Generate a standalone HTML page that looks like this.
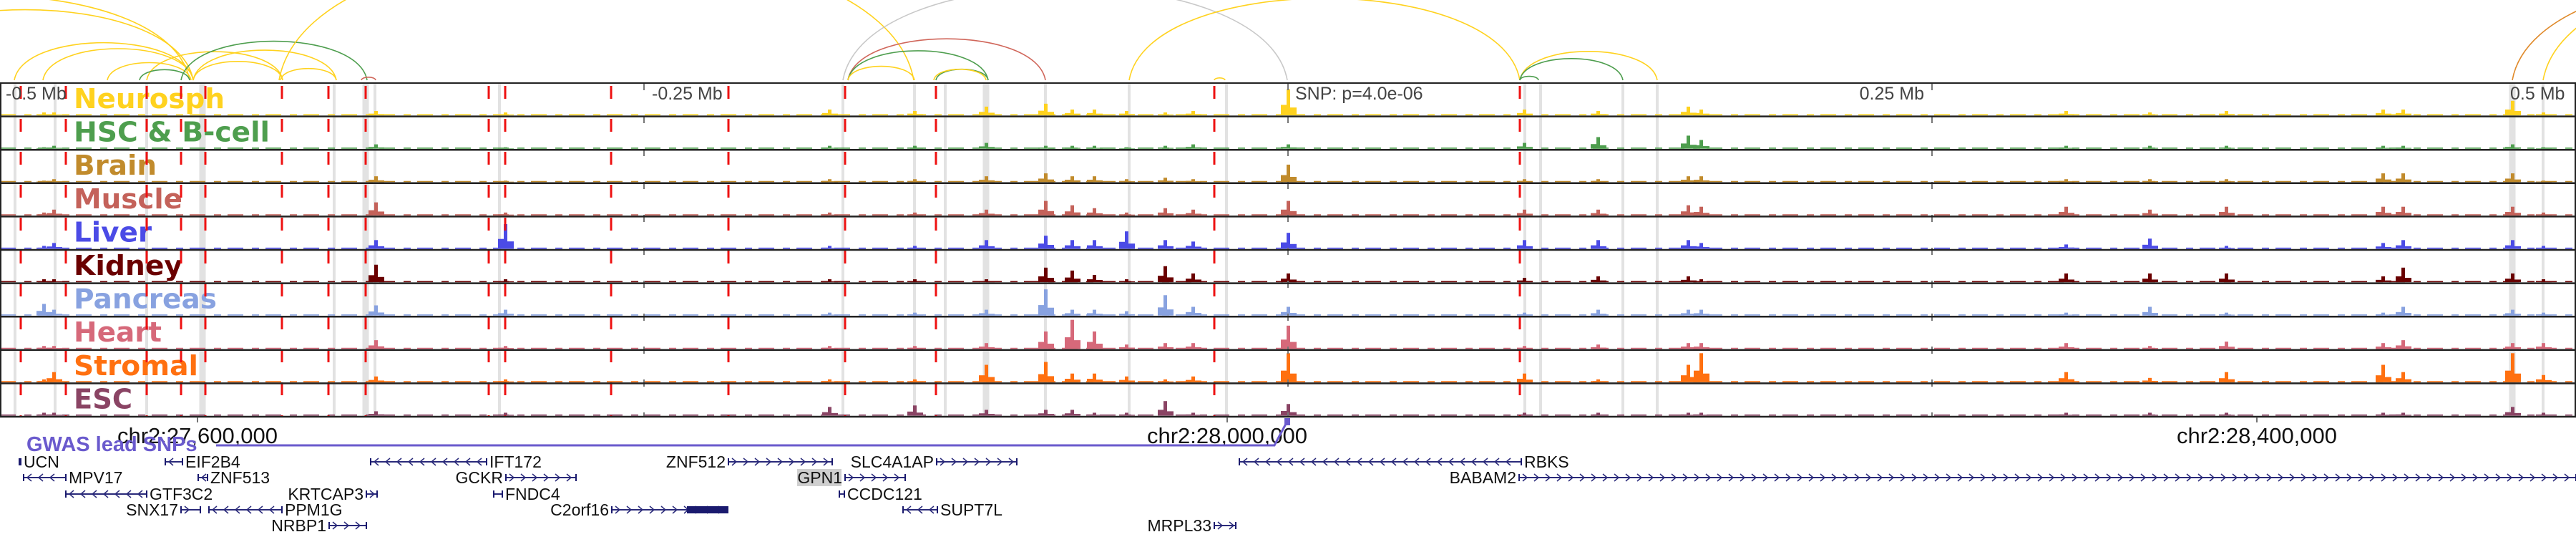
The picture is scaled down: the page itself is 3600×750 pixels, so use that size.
<!DOCTYPE html>
<html><head><meta charset="utf-8"><style>
html,body{margin:0;padding:0;background:#fff;}
svg{display:block;font-family:"Liberation Sans",sans-serif;}
</style></head><body>
<svg id="fig" width="3600" height="750" viewBox="0 0 3600 750" xmlns="http://www.w3.org/2000/svg"></svg>
<script>
// ---- data ----
const trackNames = ["Neurosph","HSC & B-cell","Brain","Muscle","Liver","Kidney","Pancreas","Heart","Stromal","ESC"];
const trackColors = ["#ffd21f","#4e9e4e","#c18b2c","#c4625a","#4b4be6","#6a0000","#88a2e0","#d6697a","#ff7010","#8a4464"];
const labelWidths = [211,274,116,152,109,152,200,123,174,82];
// peak positions (px along the window) and heights per track
const peakX = [61,75,525,706,1159,1278,1378,1461,1498,1529,1574,1628,1667,1800,2130,2233,2359,2377,2887,3004,3111,3330,3358,3511,3554];
const hNeuro   = [0.1,0.1,0.15,0.1,0.2,0.15,0.3,0.4,0.2,0.2,0.15,0.1,0.15,0.9,0.2,0.15,0.3,0.2,0.15,0.1,0.15,0.2,0.2,0.5,0.1];
const hHSC     = [0.05,0.1,0.15,0.05,0.1,0.1,0.2,0.1,0.1,0.1,0.05,0.1,0.15,0.15,0.2,0.4,0.45,0.3,0.1,0.1,0.1,0.1,0.1,0.15,0.05];
const hBrain   = [0.05,0.1,0.2,0.05,0.1,0.1,0.2,0.3,0.2,0.2,0.1,0.15,0.1,0.6,0.1,0.1,0.2,0.2,0.1,0.1,0.1,0.3,0.3,0.3,0.05];
const hMuscle  = [0.1,0.2,0.45,0.1,0.1,0.1,0.2,0.5,0.35,0.25,0.1,0.25,0.2,0.5,0.2,0.2,0.35,0.3,0.3,0.2,0.3,0.3,0.3,0.3,0.1];
const hLiver   = [0.1,0.2,0.3,0.85,0.1,0.1,0.3,0.45,0.3,0.3,0.6,0.3,0.25,0.55,0.3,0.3,0.3,0.2,0.15,0.35,0.1,0.2,0.3,0.3,0.1];
const hKidney  = [0.1,0.1,0.6,0.1,0.1,0.1,0.1,0.5,0.4,0.25,0.1,0.55,0.3,0.3,0.15,0.2,0.2,0.1,0.3,0.3,0.3,0.2,0.5,0.3,0.1];
const hPancreas= [0.4,0.2,0.35,0.2,0.1,0.1,0.2,0.9,0.2,0.2,0.15,0.7,0.3,0.3,0.1,0.2,0.2,0.2,0.1,0.3,0.1,0.1,0.3,0.2,0.1];
const hHeart   = [0.1,0.1,0.3,0.1,0.1,0.1,0.2,0.6,1.0,0.6,0.15,0.2,0.2,0.8,0.1,0.15,0.2,0.2,0.2,0.1,0.25,0.2,0.3,0.2,0.2];
const hStromal = [0.1,0.35,0.2,0.1,0.1,0.1,0.6,0.7,0.3,0.3,0.2,0.1,0.2,1.0,0.3,0.1,0.6,1.0,0.35,0.15,0.35,0.6,0.35,1.0,0.25];
const hESC     = [0.1,0.1,0.15,0.1,0.3,0.35,0.2,0.2,0.2,0.1,0.1,0.5,0.1,0.4,0.1,0.1,0.1,0.1,0.1,0.1,0.1,0.1,0.1,0.3,0.1];
const trackHeights = [hNeuro,hHSC,hBrain,hMuscle,hLiver,hKidney,hPancreas,hHeart,hStromal,hESC];
const redLines = [29,92,205,253,287,394,459,511,683,706,854,1018,1181,1308,1697,2124];
const grayBands = [21,77,205,283,467,511,524,698,1178,1278,1321,1378,1461,1578,1714,2131,2153,2268,2316,3511,3554];
const wideBands = [283,511,1378,3511];
// arcs: start, end, colour
const arcStart = [-300,-200,20,60,150,205,270,270,392,195,253,505,390,1178,1185,1185,1185,1308,1305,1578,1697,2124,2124,2124,3511,3554];
const arcEnd   = [265,270,270,270,267,395,395,470,470,265,513,525,1277,1799,1461,1381,1278,1381,1378,2124,1712,2316,2268,2150,4200,4300];
const arcColor = ["#ffd21f","#ffd21f","#ffd21f","#ffd21f","#ffd21f","#ffd21f","#ffd21f","#ffd21f","#ffd21f","#4e9e4e","#4e9e4e","#d0665a","#ffd21f","#c8c8c8","#d0665a","#4e9e4e","#ffd21f","#4e9e4e","#ffd21f","#ffd21f","#ffd21f","#ffd21f","#4e9e4e","#4e9e4e","#e08a2a","#ffd21f"];
// genes
const geneNames = ["UCN","EIF2B4","IFT172","ZNF512","SLC4A1AP","RBKS","MPV17","ZNF513","GCKR","GPN1","BABAM2","GTF3C2","KRTCAP3","FNDC4","CCDC121","SNX17","PPM1G","C2orf16","SUPT7L","NRBP1","MRPL33"];
const geneStart = [27,231,518,1018,1309,1732,33,277,707,1181,2123,92,512,690,1173,253,292,855,1262,460,1697];
const geneEnd   = [29,255,680,1163,1421,2126,92,290,805,1265,3600,205,527,702,1180,280,394,1017,1310,512,1727];
const geneRow   = [0,0,0,0,0,0,1,1,1,1,1,2,2,2,2,3,3,3,3,4,4];
const geneSide  = ["R","R","R","L","L","R","R","R","L","L","L","R","L","R","R","L","R","L","R","L","L"];
const geneStrand= [1,-1,-1,1,1,-1,-1,-1,1,1,1,-1,1,-1,-1,1,-1,1,-1,1,1];

// ---- layout ----
const NS="http://www.w3.org/2000/svg";
const svg=document.getElementById('fig');
const panelTop=116, trackH=46.6, nT=10, panelBot=panelTop+trackH*nT;
const arcBase=112;
function el(tag,attrs,parent){const e=document.createElementNS(NS,tag);for(const k in attrs)e.setAttribute(k,attrs[k]);(parent||svg).appendChild(e);return e;}

// arcs
const arcG=el('g',{});


for(let i=0;i<arcStart.length;i++){
  const a=arcStart[i],b=arcEnd[i],h=(b-a)*0.21;
  const p=el('path',{d:`M${a},${arcBase} C${a+(b-a)*0.05},${arcBase-h*1.33} ${b-(b-a)*0.05},${arcBase-h*1.33} ${b},${arcBase}`,fill:'none',stroke:arcColor[i],'stroke-width':1.6},arcG);
  
  
}

// gray bands
for(const x of grayBands){
  const w=wideBands.includes(x)?9:4;
  const r=el('rect',{x:x-w/2,y:panelTop,width:w,height:panelBot-panelTop,fill:'#e2e2e2'});
  
  
}

// tracks
for(let t=0;t<nT;t++){
  const top=panelTop+t*trackH, bot=top+trackH-1.5;
  const g=el('g',{});
  
  
  el('line',{x1:0,x2:3600,y1:bot-0.8,y2:bot-0.8,stroke:trackColors[t],'stroke-width':1.6,'stroke-dasharray':'22 12 10 9'},g);
  const hs=trackHeights[t];
  for(let i=0;i<peakX.length;i++){
    const h=hs[i]*(trackH-6), x=peakX[i];
    const r=el('rect',{x:x-2,y:bot-h,width:5,height:h,fill:trackColors[t]},g);
    
    
    el('rect',{x:x-10,y:bot-h*0.4,width:8,height:h*0.4,fill:trackColors[t]},g);
    el('rect',{x:x+3,y:bot-h*0.3,width:9,height:h*0.3,fill:trackColors[t]},g);
  }
  const lab=el('text',{x:103,y:top+35,'font-size':38,'font-weight':'bold','font-family':'"DejaVu Sans",sans-serif',fill:trackColors[t],textLength:labelWidths[t],lengthAdjust:'spacingAndGlyphs'},g);
  lab.textContent=trackNames[t];
  
  
}

// red dashed lines
for(const x of redLines){
  const l=el('line',{x1:x,x2:x,y1:panelTop,y2:panelBot,stroke:'#ee1111','stroke-width':3,'stroke-dasharray':'18 28','stroke-dashoffset':'-4'});
  
  
}
// gray dashed tick lines
for(const x of [900,1800,2700]){
  const l=el('line',{x1:x,x2:x,y1:panelTop,y2:panelBot,stroke:'#777','stroke-width':2,'stroke-dasharray':'10 36'});
  
  
}
// separators
for(let t=0;t<=nT;t++){
  const y=panelTop+t*trackH;
  const l=el('line',{x1:0,x2:3600,y1:y,y2:y,stroke:'#222','stroke-width':t==0?2:2.5});
  
  
}
el('line',{x1:1,x2:1,y1:panelTop,y2:panelBot,stroke:'#222','stroke-width':2});
el('line',{x1:3599,x2:3599,y1:panelTop,y2:panelBot,stroke:'#222','stroke-width':2});

// relative labels
const relLabels=[["-0.5 Mb",8,'start'],["-0.25 Mb",911,'start'],["SNP: p=4.0e-06",1810,'start'],["0.25 Mb",2689,'end'],["0.5 Mb",3508,'start']];
for(const [s,x,a] of relLabels){
  const t=el('text',{x:x,y:139,'font-size':25,fill:'#444','text-anchor':a});
  t.textContent=s;
  
  
}

// genomic axis
const axisPos=[27600000,28000000,28400000];
const axisLabels=["chr2:27,600,000","chr2:28,000,000","chr2:28,400,000"];
const gx = p => 276 + (p-27600000)/1e6*3597.5;
for(let i=0;i<axisPos.length;i++){
  const x=gx(axisPos[i]);
  el('line',{x1:x,x2:x,y1:panelBot,y2:panelBot+8,stroke:'#444','stroke-width':1.5});
  const t=el('text',{x:x,y:619,'font-size':31,fill:'#111','text-anchor':'middle'});
  t.textContent=axisLabels[i];
  
  
}

// GWAS lead SNPs
const gw=el('text',{x:37,y:630,'font-size':29,'font-weight':'bold',fill:'#6a5acd'});
gw.textContent="GWAS lead SNPs";


const gl=el('path',{d:'M302,622 L1781,622 L1797,592',fill:'none',stroke:'#6a5acd','stroke-width':3});


el('rect',{x:1795,y:584,width:8,height:10,fill:'#6a5acd'});

// genes
const rowY=[645,667,690,712,734];
for(let i=0;i<geneNames.length;i++){
  const g=el('g',{});
  
  
  const y=rowY[geneRow[i]], a=geneStart[i], b=geneEnd[i];
  el('line',{x1:a,x2:b,y1:y,y2:y,stroke:'#2a2a7a','stroke-width':2},g);
  el('line',{x1:a,x2:a,y1:y-5,y2:y+5,stroke:'#1a1a6e','stroke-width':2},g);
  el('line',{x1:b,x2:b,y1:y-5,y2:y+5,stroke:'#1a1a6e','stroke-width':2},g);
  const s=geneStrand[i];
  for(let x=a+8;x<b-4;x+=16){
    el('polyline',{points:`${x-3*s},${y-5} ${x+3*s},${y} ${x-3*s},${y+5}`,fill:'none',stroke:'#2a2a7a','stroke-width':1.5},g);
  }
  if(geneNames[i]==="C2orf16") el('rect',{x:960,y:y-5,width:57,height:10,fill:'#1a1a6e'},g);
  if(geneNames[i]==="GPN1") el('rect',{x:1114,y:y-12,width:62,height:24,fill:'#cfcfcf'},g);
  const side=geneSide[i];
  const t=el('text',{x:side==='R'?b+4:a-4,y:y+8,'font-size':23,fill:'#111','text-anchor':side==='R'?'start':'end'},g);
  t.textContent=geneNames[i];
}
</script>
</body></html>
